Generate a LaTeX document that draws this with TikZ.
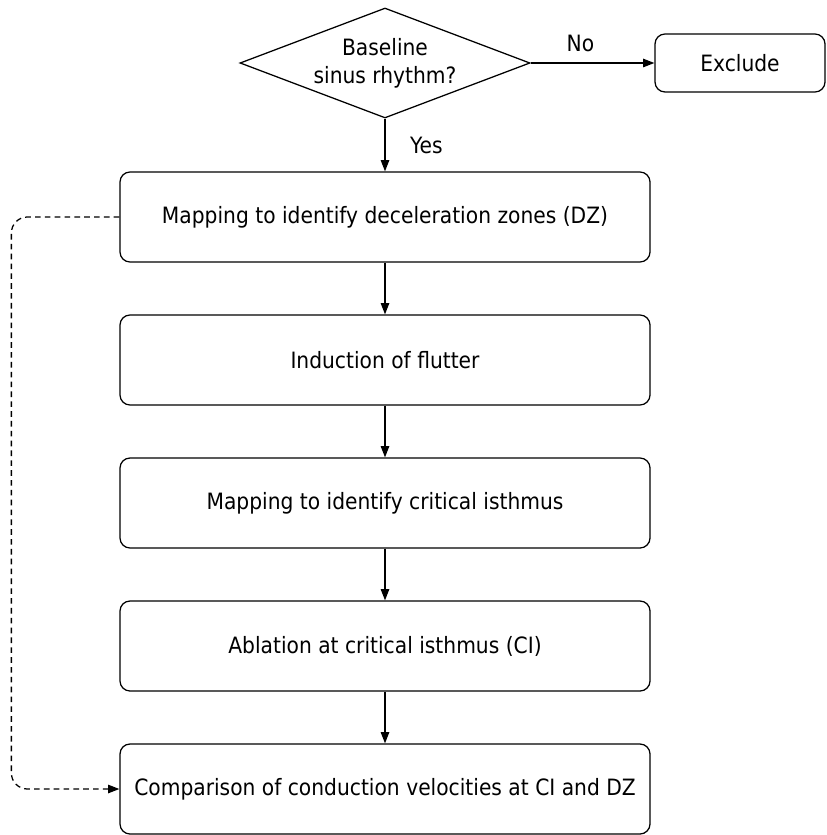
\documentclass[tikz,border=0pt]{standalone}
\usepackage{fontspec}
\setmainfont{DejaVu Sans}[FakeStretch=0.9]
\usetikzlibrary{arrows.meta,shapes.geometric}

\begin{document}
\begin{tikzpicture}[font=\fontsize{16}{20}\selectfont, line width=0.9pt,
        stepbox/.style={draw, rectangle, rounded corners=0.25cm, minimum width=13.25cm, minimum height=2.25cm},
        endbox/.style={draw, rectangle, rounded corners=0.25cm, minimum width=4.25cm, minimum height=1.45cm},
        decision/.style={draw, diamond, aspect=2.6, inner sep=0pt, minimum width=7.25cm, minimum height=2.75cm, align=center},
        flow/.style={-{Triangle[length=8pt,width=6pt]}},
        node distance=3.575cm]
        \useasboundingbox (0,0) rectangle (20.675,-20.875);
        \node[decision] (sinus) at (9.625,-1.575) {Baseline\\sinus rhythm?};
        \node[endbox, right of=sinus, node distance=8.875cm] (exclude) {Exclude};
        \node[stepbox, below of=sinus, node distance=3.85cm] (mapdz) {Mapping to identify deceleration zones (DZ)};
        \node[stepbox, below of=mapdz] (flutter) {Induction of flutter};
        \node[stepbox, below of=flutter] (mapci) {Mapping to identify critical isthmus};
        \node[stepbox, below of=mapci] (ablate) {Ablation at critical isthmus (CI)};
        \node[stepbox, below of=ablate] (compare) {Comparison of conduction velocities at CI and DZ};

        \draw[flow] (sinus) -- node[above, yshift=4pt, xshift=-0.3cm] {No} (exclude);
        \draw[flow] (sinus) -- node[right, xshift=14pt] {Yes} (mapdz);
        \draw[flow] (mapdz) -- (flutter);
        \draw[flow] (flutter) -- (mapci);
        \draw[flow] (mapci) -- (ablate);
        \draw[flow] (ablate) -- (compare);
        \draw[flow, dash pattern=on 4pt off 3pt, rounded corners=0.4cm] (mapdz.west) -- ++(-2.7,0) |- (compare.west);
      \end{tikzpicture}
\end{document}
